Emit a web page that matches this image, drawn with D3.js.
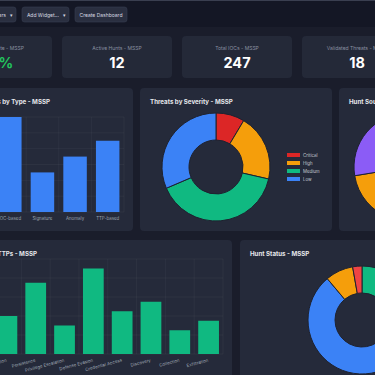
<!DOCTYPE html>
<html>
<head>
<meta charset="utf-8">
<script src="https://cdn.jsdelivr.net/npm/d3@7"></script>
<style>
  html, body { margin: 0; padding: 0; background: #1a1d2b; overflow: hidden; }
  svg { display: block; font-family: Inter, "Noto Sans", sans-serif; }
</style>
</head>
<body>
<svg id="chart" width="375" height="375"></svg>
<script>
// Datos
const toolbarButtons = ["Filters", "Add Widget...", "Create Dashboard"]
const statLabels = ["Detection Rate - MSSP", "Active Hunts - MSSP", "Total IOCs - MSSP", "Validated Threats - MSSP"]
const statValues = ["87%", "12", "247", "18"]

const huntTypes = ["IOC-based", "Signature", "Anomaly", "TTP-based"]
const huntTypeCounts = [12, 5, 7, 9]

const severityLabels = ["Critical", "High", "Medium", "Low"]
const severityCounts = [3, 7, 14, 11]

const sourceLabels = ["Threat Intel", "SIEM Alerts", "Manual", "Automated"]
const sourceCounts = [9, 7, 5, 8]

const ttpLabels = ["Execution", "Persistence", "Privilege Escalation", "Defense Evasion", "Credential Access", "Discovery", "Collection", "Exfiltration"]
const ttpCounts = [8, 15, 6, 18, 9, 11, 5, 7]

const statusLabels = ["Active", "Completed", "Paused", "Failed"]
const statusCounts = [12, 20, 3, 1]

const panelBg = "#252a3a"
const gridColor = "rgba(255,255,255,0.07)"
const tickColor = "#9ca3af"

const svg = d3.select("#chart")

// Barra superior
svg.append("rect").attr("x", 0).attr("y", 0).attr("width", 375).attr("height", 27).attr("fill", "#141725")
svg.append("rect").attr("x", 0).attr("y", 0).attr("width", 375).attr("height", 1).attr("fill", "#3a3f50")

const buttons = [
  { x: -30, w: 46, caret: true },
  { x: 22, w: 47, caret: true },
  { x: 75, w: 52, caret: false }
]
buttons.forEach((b, i) => {
  const g = svg.append("g")
  g.append("rect").attr("x", b.x).attr("y", 7).attr("width", b.w).attr("height", 15).attr("rx", 2.5)
    .attr("fill", "#2a2f40").attr("stroke", "#383e50").attr("stroke-width", 0.6)
  const tx = b.caret ? b.x + b.w - 10 : b.x + b.w / 2
  g.append("text").attr("x", tx).attr("y", 16.6)
    .attr("text-anchor", b.caret ? "end" : "middle")
    .attr("font-size", 5).attr("fill", "#d6d9e0").text(toolbarButtons[i])
  if (b.caret) {
    g.append("text").attr("x", b.x + b.w - 5).attr("y", 16.6).attr("text-anchor", "middle")
      .attr("font-size", 5).attr("fill", "#d6d9e0").text("▾")
  }
})

// Tarjetas de estadísticas
statLabels.forEach((label, i) => {
  const x = -58 + i * 120
  svg.append("rect").attr("x", x).attr("y", 36).attr("width", 110).attr("height", 42).attr("rx", 4).attr("fill", "#242938")
  svg.append("text").attr("x", x + 55).attr("y", 49.5).attr("text-anchor", "middle")
    .attr("font-size", 5).attr("fill", "#8a90a0").text(label)
  svg.append("text").attr("x", x + 55).attr("y", 68).attr("text-anchor", "middle")
    .attr("font-size", 14.5).attr("font-weight", 700)
    .attr("fill", i === 0 ? "#22c55e" : "#ffffff").text(statValues[i])
})

// Paneles (titleEnd: alinear el título por el final cuando el panel sale del encuadre)
function panel(x, y, w, h, title, titleEnd) {
  svg.append("rect").attr("x", x).attr("y", y).attr("width", w).attr("height", h).attr("rx", 4).attr("fill", panelBg)
  svg.append("text")
    .attr("x", titleEnd != null ? titleEnd : x + 10).attr("y", y + 16)
    .attr("text-anchor", titleEnd != null ? "end" : "start")
    .attr("font-size", 6.2).attr("font-weight", 700)
    .attr("fill", "#e5e7eb").text(title)
}
panel(-57, 88, 190, 143, "Hunts by Type - MSSP", 50)
panel(140, 88, 192, 143, "Threats by Severity - MSSP")
panel(339, 88, 190, 143, "Hunt Sources - MSSP")
panel(-150, 240, 382, 160, "Top MITRE TTPs - MSSP", 37)
panel(240, 240, 200, 160, "Hunt Status - MSSP")

// Gráfico de barras genérico
function barChart(labels, values, { left, right, top, bottom, max, step, color, rotate }) {
  const x = d3.scaleBand().domain(labels).range([left, right])
  const y = d3.scaleLinear().domain([0, max]).range([bottom, top])
  const g = svg.append("g")
  g.selectAll("line.h").data(d3.range(0, max + step / 2, step)).join("line")
    .attr("x1", left).attr("x2", right).attr("y1", d => y(d)).attr("y2", d => y(d))
    .attr("stroke", gridColor).attr("stroke-width", 0.6)
  g.selectAll("line.v").data(labels).join("line")
    .attr("x1", d => x(d) + x.bandwidth()).attr("x2", d => x(d) + x.bandwidth())
    .attr("y1", top).attr("y2", bottom)
    .attr("stroke", gridColor).attr("stroke-width", 0.6)
  const bw = x.bandwidth() * 0.72
  g.selectAll("rect").data(labels).join("rect")
    .attr("x", d => x(d) + (x.bandwidth() - bw) / 2)
    .attr("y", (d, i) => y(values[i]))
    .attr("width", bw)
    .attr("height", (d, i) => bottom - y(values[i]))
    .attr("fill", color)
  const t = g.selectAll("text").data(labels).join("text")
    .attr("font-size", 4.4).attr("fill", tickColor).text(d => d)
  if (rotate) {
    t.attr("text-anchor", "end")
      .attr("transform", d => `translate(${x(d) + x.bandwidth() / 2},${bottom + 7.5}) rotate(-15)`)
  } else {
    t.attr("text-anchor", "middle").attr("x", d => x(d) + x.bandwidth() / 2).attr("y", bottom + 7.5)
  }
}

barChart(huntTypes, huntTypeCounts, { left: -6.5, right: 124, top: 117, bottom: 212, max: 12, step: 2, color: "#3b82f6" })
barChart(ttpLabels, ttpCounts, { left: -7.5, right: 223, top: 259, bottom: 354, max: 20, step: 4, color: "#10b981", rotate: true })

// Donas
function donut(values, colors, cx, cy) {
  const arcs = d3.pie().sort(null)(values)
  const arc = d3.arc().innerRadius(27).outerRadius(54)
  svg.append("g").attr("transform", `translate(${cx},${cy})`)
    .selectAll("path").data(arcs).join("path")
    .attr("d", arc)
    .attr("fill", (d, i) => colors[i])
    .attr("stroke", "#1e2230").attr("stroke-width", 1)
}

const severityColors = ["#dc2626", "#f59e0b", "#10b981", "#3b82f6"]
donut(severityCounts, severityColors, 216, 167)
donut(sourceCounts, ["#3b82f6", "#10b981", "#f59e0b", "#8b5cf6"], 408, 167)
donut(statusCounts, ["#10b981", "#3b82f6", "#f59e0b", "#ef4444"], 362, 320)

// Leyenda de severidad
const legend = svg.append("g").selectAll("g").data(severityLabels).join("g")
  .attr("transform", (d, i) => `translate(287,${153 + i * 8})`)
legend.append("rect").attr("width", 13).attr("height", 4).attr("fill", (d, i) => severityColors[i])
legend.append("text").attr("x", 16).attr("y", 3.7).attr("font-size", 4.4).attr("fill", "#c4c8d0").text(d => d)
</script>
</body>
</html>
